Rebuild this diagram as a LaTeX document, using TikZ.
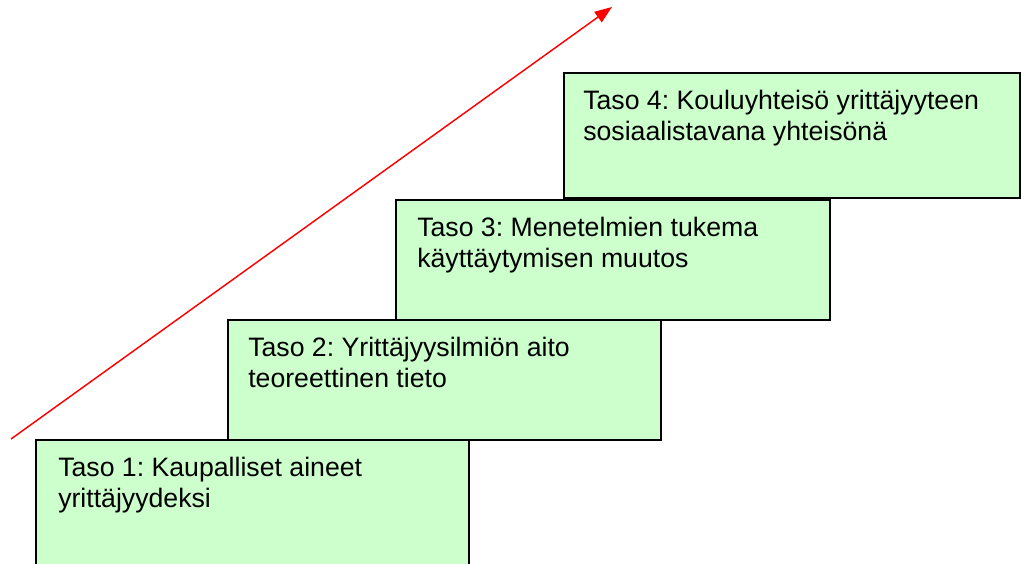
\documentclass[tikz,border=0pt]{standalone}
\usepackage{fontspec}
\setmainfont{Liberation Sans}
\frenchspacing
\usetikzlibrary{arrows.meta,calc}
\definecolor{boxgreen}{HTML}{CCFFCC}
\begin{document}
\begin{tikzpicture}[x=0.75pt,y=-0.75pt,
  stepbox/.style={draw=black,line width=1.3pt,fill=boxgreen,rectangle,anchor=north west,inner sep=0pt,minimum height=#1},
  stepbox/.default=90pt,
  lbl/.style={anchor=north west,inner sep=0pt,align=left,font=\fontsize{20}{23}\selectfont},
  redarrow/.style={draw=red,line width=1.1pt,-{Triangle[length=13pt,width=9.5pt]}}
]
\clip (0,0) rectangle (1021,564);
\fill[white] (0,0) rectangle (1021,564);
\node[stepbox=110pt,minimum width=324.75pt] (b1) at (35,439) {};
\node[stepbox=90pt,minimum width=324.75pt] (b2) at (227,319) {};
\node[stepbox=90pt,minimum width=325.5pt] (b3) at (395,199) {};
\node[stepbox=94pt,minimum width=342pt] (b4) at (563,72) {};
\node[lbl] (t1) at ($(b1.north west)+(23,11)$) {\rule{0pt}{20pt}Taso 1: Kaupalliset aineet\\yrittäjyydeksi};
\node[lbl] (t2) at ($(b2.north west)+(21,11)$) {\rule{0pt}{20pt}Taso 2: Yrittäjyysilmiön aito\\teoreettinen tieto};
\node[lbl] (t3) at ($(b3.north west)+(22,11)$) {\rule{0pt}{20pt}Taso 3: Menetelmien tukema\\käyttäytymisen muutos};
\node[lbl] (t4) at ($(b4.north west)+(20,11)$) {\rule{0pt}{20pt}Taso 4: Kouluyhteisö yrittäjyyteen\\sosiaalistavana yhteisönä};
\coordinate (s) at (11,439);
\coordinate (e) at (612,7);
\draw[redarrow] (s) -- (e);
\end{tikzpicture}
\end{document}
